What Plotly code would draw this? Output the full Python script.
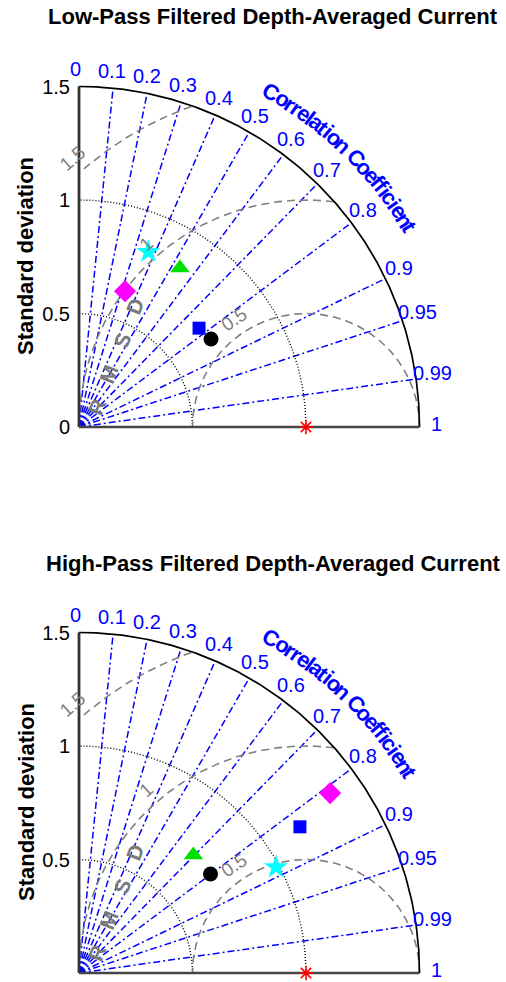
import numpy as np
import plotly.graph_objects as go

# ---- statistics for each Taylor diagram (standard deviation, correlation) ----
ref_std = 1.0
marker_names = ["black", "blue", "green", "magenta", "cyan"]
marker_symbols = ["circle", "square", "triangle-up", "diamond", "star"]
marker_colors = ["#000000", "#0000ff", "#00e000", "#ff00ff", "#00ffff"]
marker_sizes = [15, 13, 17, 17, 18]

low_std = [0.699, 0.685, 0.830, 0.632, 0.830]
low_cor = [0.832, 0.772, 0.536, 0.321, 0.368]

high_std = [0.725, 1.167, 0.724, 1.361, 0.985]
high_cor = [0.799, 0.834, 0.696, 0.813, 0.881]

titles = ["Low-Pass Filtered Depth-Averaged Current",
          "High-Pass Filtered Depth-Averaged Current"]

# ---- diagram furniture ----
max_std = 1.5
std_ticks = [0, 0.5, 1, 1.5]
std_tick_text = ["0", "0.5", "1", "1.5"]
std_arcs = [0.5, 1.0]
cor_lines = [0.1, 0.2, 0.3, 0.4, 0.5, 0.6, 0.7, 0.8, 0.9, 0.95, 0.99]
cor_labels = [0, 0.1, 0.2, 0.3, 0.4, 0.5, 0.6, 0.7, 0.8, 0.9, 0.95, 0.99, 1]
rms_arcs = [0.5, 1.0, 1.5]
rms_label_text = ["0.5", "1", "1.5"]
rms_label_angle = [124, 131, 131]
cor_title = "Correlation Coefficient"

FONT = "Liberation Sans, Arial, Helvetica, sans-serif"
BLUE = "#0000ff"
GRAY = "#808080"

# pixel geometry of the page
W, H = 506, 982
SCALE = 227.0                 # pixels per unit of standard deviation
ORIGIN_X = 79.0
ORIGIN_Y = [427.0, 973.0]     # origin row of each panel (pixels from top)
PANEL_TOP = [0.0, 491.0]
PANEL_BOT = [491.0, 982.0]
TITLE_Y = [16.0, 563.0]

fig = go.Figure()


def polar_xy(r, theta_deg):
    t = np.deg2rad(theta_deg)
    return r * np.cos(t), r * np.sin(t)


def add_line(x, y, xa, ya, color, width, dash="solid"):
    fig.add_trace(go.Scatter(x=list(x), y=list(y), mode="lines", xaxis=xa, yaxis=ya,
                             line=dict(color=color, width=width, dash=dash),
                             hoverinfo="skip", cliponaxis=False))


def inside(x, y):
    return (x >= -1e-9) & (y >= -1e-9) & (np.hypot(x, y) <= max_std + 1e-9)


for p, (stds, cors) in enumerate([(low_std, low_cor), (high_std, high_cor)]):
    xa = "x" if p == 0 else "x2"
    ya = "y" if p == 0 else "y2"

    # correlation rays
    for c in cor_lines:
        th = np.degrees(np.arccos(c))
        x1, y1 = polar_xy(max_std, th)
        add_line([0, x1], [0, y1], xa, ya, BLUE, 1.5, "7px,3px,2px,3px")

    # standard-deviation arcs about the origin
    th = np.linspace(0, 90, 200)
    for r in std_arcs:
        x, y = polar_xy(r, th)
        add_line(x, y, xa, ya, "#000000", 1.4, "1px,2px")

    # centred RMS difference arcs about the reference point
    ph = np.linspace(0, 180, 600)
    for r in rms_arcs:
        x = ref_std + r * np.cos(np.deg2rad(ph))
        y = r * np.sin(np.deg2rad(ph))
        m = inside(x, y)
        add_line(x[m], y[m], xa, ya, GRAY, 1.6, "8px,5px")

    # outer boundary and axes
    x, y = polar_xy(max_std, np.linspace(0, 90, 300))
    add_line(x, y, xa, ya, "#000000", 1.7)
    add_line([0, 0], [0, max_std], xa, ya, "#333333", 2.8)
    add_line([0, max_std], [0, 0], xa, ya, "#444444", 2.4)

    # model markers
    s = np.array(stds)
    c = np.array(cors)
    for i in range(len(s)):
        fig.add_trace(go.Scatter(
            x=[s[i] * c[i]], y=[s[i] * np.sqrt(1 - c[i] ** 2)], mode="markers",
            xaxis=xa, yaxis=ya, cliponaxis=False, name=marker_names[i],
            marker=dict(symbol=marker_symbols[i], color=marker_colors[i],
                        size=marker_sizes[i], line=dict(width=0))))
    # reference point
    fig.add_trace(go.Scatter(
        x=[ref_std], y=[0], mode="markers", xaxis=xa, yaxis=ya, cliponaxis=False,
        marker=dict(symbol="asterisk-open", size=12, color="#ff0000",
                    line=dict(color="#ff0000", width=1.6))))

    # correlation tick labels
    for cl in cor_labels:
        th = np.degrees(np.arccos(cl))
        x, y = polar_xy(1.575, th + 0.5)
        fig.add_annotation(x=x, y=y, xref=xa, yref=ya, text="%g" % cl, showarrow=False,
                           font=dict(family=FONT, size=20, color=BLUE),
                           xanchor="center", yanchor="middle")

    # curved axis title along the correlation arc
    widths = {"C": .722, "o": .611, "r": .389, "e": .556, "l": .278, "a": .556,
              "t": .333, "i": .278, "n": .611, " ": .278, "f": .333, "c": .556}
    w = np.array([widths[ch] for ch in cor_title])
    centers = np.cumsum(w) - w / 2
    frac = (centers - centers[0]) / (centers[-1] - centers[0])
    angs = 60.1 + frac * (31.1 - 60.1)
    for ch, a in zip(cor_title, angs):
        if ch == " ":
            continue
        x, y = polar_xy(1.70, a)
        fig.add_annotation(x=x, y=y, xref=xa, yref=ya, text=ch, showarrow=False,
                           textangle=90 - a,
                           font=dict(family=FONT, size=22, color=BLUE, weight="bold"),
                           xanchor="center", yanchor="middle")

    # RMS difference labels
    for r, t, a in zip(rms_arcs, rms_label_text, rms_label_angle):
        x = ref_std + (r + 0.07) * np.cos(np.deg2rad(a))
        y = (r + 0.07) * np.sin(np.deg2rad(a))
        fig.add_annotation(x=x, y=y, xref=xa, yref=ya, text=t, showarrow=False,
                           textangle=90 - a,
                           font=dict(family=FONT, size=19, color=GRAY),
                           xanchor="center", yanchor="middle")

    # "RMSD" axis name, letters spaced along a ray from the origin
    p0 = np.array([0.077, 0.088])
    p1 = np.array([0.247, 0.529])
    ang = np.degrees(np.arctan2(*(p1 - p0)[::-1]))
    for k, ch in enumerate("RMSD"):
        q = p0 + (p1 - p0) * k / 3
        fig.add_annotation(x=q[0], y=q[1], xref=xa, yref=ya, text=ch, showarrow=False,
                           textangle=-ang,
                           font=dict(family=FONT, size=21, color="#7a7a7a", weight="bold"),
                           xanchor="center", yanchor="middle")

    # panel title and y title
    fig.add_annotation(x=273 / W, y=1 - TITLE_Y[p] / H,
                       xref="paper", yref="paper", text=titles[p], showarrow=False,
                       font=dict(family=FONT, size=22, color="#000000", weight="bold"),
                       xanchor="center", yanchor="middle")
    fig.add_annotation(x=26 / W, y=1 - (ORIGIN_Y[p] - 171) / H,
                       xref="paper", yref="paper", text="Standard deviation",
                       showarrow=False, textangle=-90,
                       font=dict(family=FONT, size=22, color="#000000", weight="bold"),
                       xanchor="center", yanchor="middle")

# ---- axes: equal scale in both panels, std tick labels on a free y-axis ----
x_range = [-ORIGIN_X / SCALE, (W - ORIGIN_X) / SCALE]
common_x = dict(range=x_range, visible=False, fixedrange=True)
fig.update_layout(
    width=W, height=H, margin=dict(l=0, r=0, t=0, b=0),
    paper_bgcolor="white", plot_bgcolor="white", showlegend=False,
    xaxis=dict(domain=[0, 1], anchor="y", **common_x),
    xaxis2=dict(domain=[0, 1], anchor="y2", **common_x),
)
for p, key in enumerate(["yaxis", "yaxis2"]):
    rng = [(ORIGIN_Y[p] - PANEL_BOT[p]) / SCALE, (ORIGIN_Y[p] - PANEL_TOP[p]) / SCALE]
    fig.update_layout(**{key: dict(
        domain=[1 - PANEL_BOT[p] / H, 1 - PANEL_TOP[p] / H], range=rng,
        anchor="free", position=ORIGIN_X / W, showgrid=False, zeroline=False,
        showline=False, ticks="", tickvals=std_ticks, ticktext=std_tick_text,
        ticklabelstandoff=9, tickfont=dict(family=FONT, size=20, color="#000000"),
        fixedrange=True)})

fig.write_html("out.html")
